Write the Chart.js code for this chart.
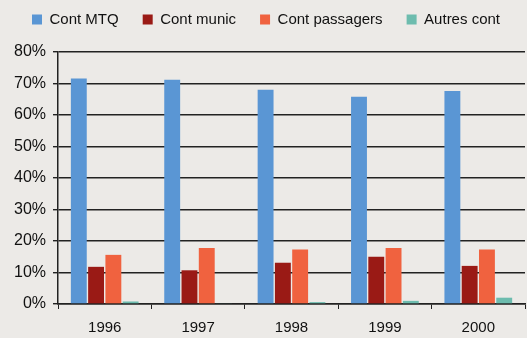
<!DOCTYPE html>
<html>
<head>
<meta charset="utf-8">
<script src="https://cdn.jsdelivr.net/npm/chart.js@4/dist/chart.umd.min.js"></script>
<style>
    html, body { margin: 0; padding: 0; background: #eceae7; }
    #wrap { width: 527px; height: 338px; position: relative; }
</style>
</head>
<body>
<div id="wrap"><canvas id="chart" width="527" height="338"></canvas></div>
<script>
// chart data
const years = ['1996', '1997', '1998', '1999', '2000'];
const contMtq = [71.6, 71.2, 68.0, 65.8, 67.6];
const contMunic = [11.8, 10.7, 13.1, 15.0, 12.1];
const contPassagers = [15.6, 17.8, 17.3, 17.8, 17.3];
const autresCont = [0.8, 0.2, 0.6, 1.0, 2.0];
const yTicks = [0, 10, 20, 30, 40, 50, 60, 70, 80];

const font = 'Liberation Sans, Arial, sans-serif';

// push the plot down a bit below the legend row
const legendSpacer = {
    id: 'legendSpacer',
    beforeInit(chart) {
        const fit = chart.legend.fit;
        chart.legend.fit = function () {
            fit.bind(chart.legend)();
            this.height += 15;
        };
    }
};

const ctx = document.getElementById('chart').getContext('2d');
const chart = new Chart(ctx, {
    type: 'bar',
    data: {
        labels: years,
        datasets: [
            { label: 'Cont MTQ', data: contMtq, backgroundColor: '#5a96d4' },
            { label: 'Cont munic', data: contMunic, backgroundColor: '#9a1a15' },
            { label: 'Cont passagers', data: contPassagers, backgroundColor: '#f0623f' },
            { label: 'Autres cont', data: autresCont, backgroundColor: '#6dbcae' },
        ],
    },
    plugins: [legendSpacer],
    options: {
        responsive: false,
        animation: false,
        layout: { padding: { left: 7, right: 2, top: -12, bottom: -9 } },
        datasets: {
            bar: { categoryPercentage: 0.74, barPercentage: 0.92 }
        },
        plugins: {
            tooltip: { enabled: false },
            legend: {
                position: 'top',
                align: 'center',
                labels: {
                    color: '#111',
                    font: { family: font, size: 15 },
                    boxWidth: 10,
                    boxHeight: 10,
                    padding: 24,
                }
            }
        },
        scales: {
            x: {
                grid: {
                    display: true,
                    drawOnChartArea: false,
                    offset: true,
                    color: '#222',
                    tickLength: 5,
                    lineWidth: 1,
                },
                border: { color: '#222', width: 1.5 },
                ticks: { color: '#111', font: { family: font, size: 15 }, padding: 10 }
            },
            y: {
                min: 0,
                max: 80,
                afterBuildTicks: axis => { axis.ticks = yTicks.map(v => ({ value: v })); },
                grid: { color: '#222', lineWidth: 1.4, tickLength: 5 },
                border: { color: '#222', width: 1.5 },
                ticks: {
                    color: '#111',
                    font: { family: font, size: 16 },
                    padding: 7,
                    callback: v => v + '%'
                }
            },
        },
    },
});
</script>
</body>
</html>
